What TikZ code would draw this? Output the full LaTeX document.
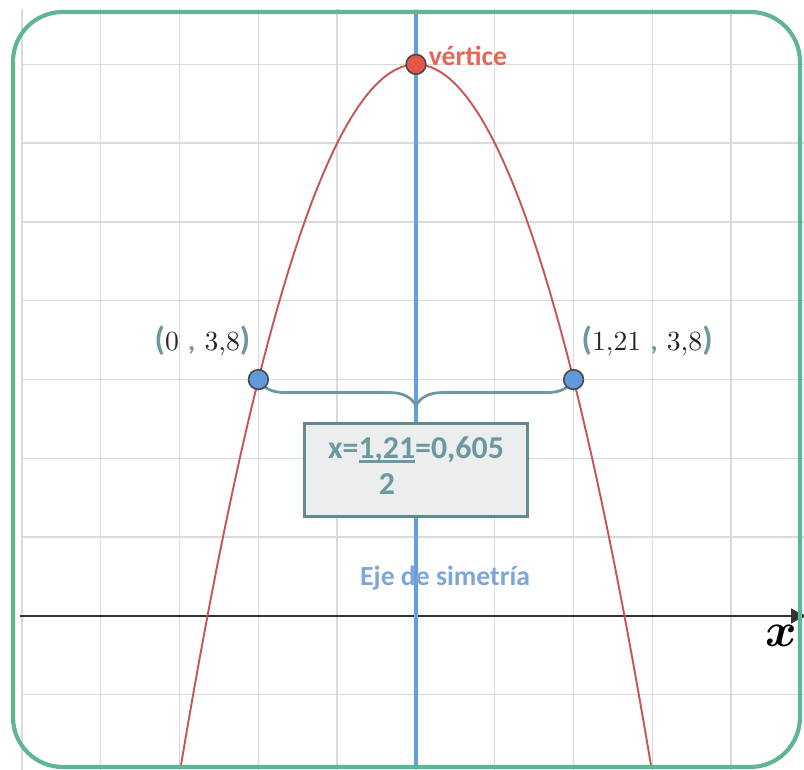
\documentclass[tikz,border=0pt]{standalone}
\usepackage{fontspec}
\setsansfont{Carlito}
\usepackage{tikz}
\usetikzlibrary{arrows.meta, calc, decorations.pathreplacing, positioning}
\definecolor{bordeverde}{RGB}{96,182,146}
\definecolor{rejilla}{RGB}{218,218,218}
\definecolor{ejeazul}{RGB}{98,160,224}
\definecolor{curvaroja}{RGB}{196,88,88}
\definecolor{verticeroja}{RGB}{226,86,72}
\definecolor{puntoazul}{RGB}{98,152,222}
\definecolor{tealgris}{RGB}{108,152,160}
\definecolor{cajafondo}{RGB}{236,238,238}
\definecolor{textoazul}{RGB}{126,166,214}
\newcommand{\pcol}[1]{\textcolor{tealgris}{\sffamily\bfseries #1}}
\newcommand{\subr}[1]{\setbox0\hbox{#1}\rlap{\rule[-1.6pt]{\wd0}{1.1pt}}\box0}

\begin{document}
\begin{tikzpicture}[font=\sffamily,
    punto/.style={circle, draw=black!70, fill=puntoazul, line width=0.6pt, inner sep=0pt, minimum size=0.25cm},
    etiq/.style={inner sep=0pt, font=\fontsize{10}{10}\selectfont, text=black!85}]
    \useasboundingbox (-5.279,-1.942) rectangle (4.924,7.817);

    % Grid
    \begin{scope}
        \clip (-5.05,-1.942) rectangle (4.924,7.69);
        \draw[rejilla, line width=0.5pt] (-5,-2) grid (5,8);
    \end{scope}

    % Axes
    \coordinate (xini) at (-5.03,0);
    \coordinate (xfin) at (4.98,0);
    \coordinate (yini) at (0,-1.942);
    \coordinate (yfin) at (0,7.69);
    \draw[-{Latex[length=0.22cm, width=0.2cm]}, black!80, line width=0.7pt] (xini) -- (xfin);
    \draw[ejeazul, line width=1.3pt] (yini) -- (yfin);
    \node[font=\fontsize{17}{17}\selectfont\boldmath, inner sep=0pt] (xlab) at (4.63,-0.25) {$x$};

    % Parabola
    \draw[curvaroja, line width=0.7pt, domain=-2.99:2.99, samples=80] plot (\x, {7-\x*\x});

    % Brace
    \coordinate (A) at (-2,3);
    \coordinate (B) at (2,3);
    \draw[tealgris, line width=1pt, decorate, decoration={brace, mirror, amplitude=0.33cm}] (A) -- (B);

    % Points
    \node[circle, draw=black!70, fill=verticeroja, line width=0.6pt, inner sep=0pt, minimum size=0.25cm] (vert) at (0,7) {};
    \node[punto] (pA) at (A) {};
    \node[punto] (pB) at (B) {};

    % Labels
    \node[right=0.02cm of vert, yshift=0.11cm, inner sep=0pt, text=verticeroja!90!white, font=\sffamily\bfseries\fontsize{10}{10}\selectfont] (lvert) {vértice};
    \node[etiq, above left=0.2cm and 0cm of pA] (etA) {\pcol{\large(}0 \pcol{,} 3,8\pcol{\large)}};
    \node[etiq, above right=0.2cm and 0cm of pB] (etB) {\pcol{\large(}1,21 \pcol{,} 3,8\pcol{\large)}};

    % Box
    \node[draw=tealgris!90!black, fill=cajafondo, line width=1.1pt, minimum width=2.82cm, minimum height=1.19cm, text=tealgris, font=\sffamily\bfseries\fontsize{11.5}{12}\selectfont] (caja) at (0,1.853)
        {x=\begin{tabular}[t]{@{}c@{}}\subr{1,21}\\[1pt]2\end{tabular}=0,605};
    \node[text=textoazul, font=\sffamily\bfseries\fontsize{10}{10}\selectfont] (leje) at (0.37,0.48) {Eje de simetría};

    % Frame
    \draw[bordeverde, line width=1.5pt, rounded corners=0.63cm] (-5.114,-1.916) rectangle (4.873,7.665);
\end{tikzpicture}
\end{document}
